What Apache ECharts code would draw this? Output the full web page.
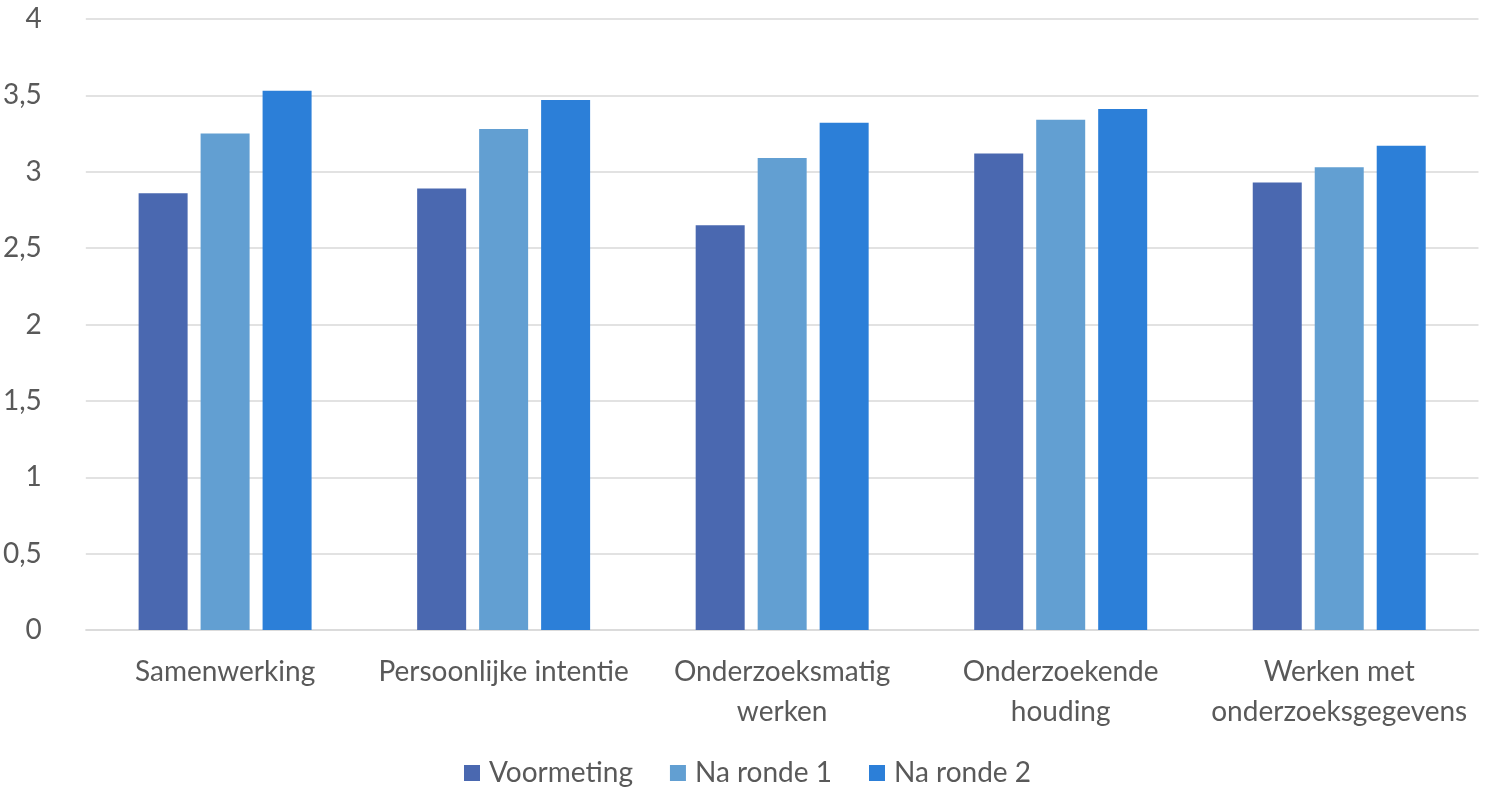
<!DOCTYPE html>
<html><head><meta charset="utf-8">
<script src="https://cdn.jsdelivr.net/npm/echarts@6/dist/echarts.min.js"></script>
<style>html,body{margin:0;padding:0;background:#fff}#c{width:1495px;height:790px}</style>
</head><body><div id="c"></div>
<script>
const categories = ['Samenwerking', 'Persoonlijke intentie', 'Onderzoeksmatig\nwerken', 'Onderzoekende\nhouding', 'Werken met\nonderzoeksgegevens'];
const voormeting = [2.86, 2.89, 2.65, 3.12, 2.93];
const naRonde1 = [3.25, 3.28, 3.09, 3.34, 3.03];
const naRonde2 = [3.53, 3.47, 3.32, 3.41, 3.17];
const seriesNames = ['Voormeting', 'Na ronde 1', 'Na ronde 2'];
const colors = ['#4A68B0', '#629FD2', '#2C7FD8'];
const font = 'Lato, "Open Sans", sans-serif';
const chart = echarts.init(document.getElementById('c'));
chart.setOption({
  animation: false,
  color: colors,
  textStyle: { fontFamily: font, color: '#595959' },
  grid: { left: 83.5, right: 16.5, top: 19, bottom: 160, containLabel: false },
  legend: {
    top: 754, left: 'center', itemWidth: 16, itemHeight: 16, itemGap: 37,
    icon: 'rect',
    textStyle: { fontSize: 28, color: '#595959', fontFamily: font, padding: [0, 0, 0, 4] },
    data: seriesNames
  },
  xAxis: {
    type: 'category', data: categories,
    axisLine: { lineStyle: { color: '#D9D9D9', width: 1.5 } },
    axisTick: { show: false },
    axisLabel: { fontSize: 28, color: '#595959', margin: 22, lineHeight: 40, interval: 0, fontFamily: font }
  },
  yAxis: {
    type: 'value', min: 0, max: 4, interval: 0.5,
    axisLine: { show: false }, axisTick: { show: false },
    splitLine: { lineStyle: { color: '#D9D9D9', width: 1.5 } },
    axisLabel: { fontSize: 28, color: '#595959', margin: 44, fontFamily: font,
      formatter: v => String(v).replace('.', ',') }
  },
  series: [
    { name: seriesNames[0], type: 'bar', data: voormeting, barWidth: 49, barGap: '26.5%' },
    { name: seriesNames[1], type: 'bar', data: naRonde1, barWidth: 49, barGap: '26.5%' },
    { name: seriesNames[2], type: 'bar', data: naRonde2, barWidth: 49, barGap: '26.5%' }
  ]
});
</script></body></html>
